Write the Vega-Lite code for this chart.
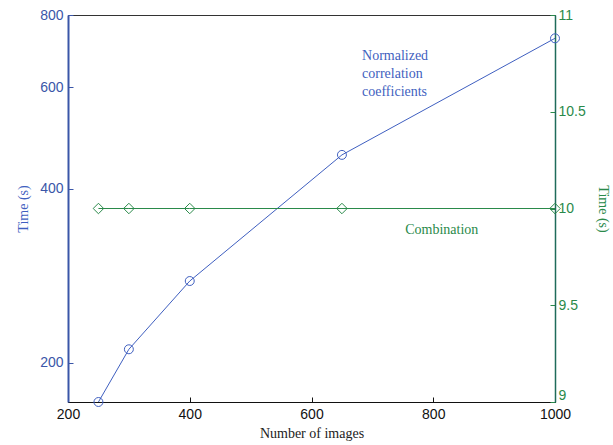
{
  "$schema": "https://vega.github.io/schema/vega-lite/v6.json",
  "autosize": "none",
  "width": 487,
  "height": 387,
  "padding": {"left": 68, "top": 15, "right": 58, "bottom": 43},
  "background": "white",
  "config": {
    "view": {"stroke": "#333333", "strokeWidth": 1},
    "axis": {
      "grid": false,
      "labelFont": "Liberation Sans",
      "labelFontSize": 14,
      "titleFont": "Liberation Serif",
      "titleFontSize": 14,
      "titleFontWeight": "normal",
      "tickSize": -5
    }
  },
  "datasets": {
    "ncc": [
      {"images": 250, "time": 171},
      {"images": 300, "time": 211},
      {"images": 400, "time": 277},
      {"images": 650, "time": 458},
      {"images": 1000, "time": 729}
    ],
    "comb": [
      {"images": 250, "time": 10},
      {"images": 300, "time": 10},
      {"images": 400, "time": 10},
      {"images": 650, "time": 10},
      {"images": 1000, "time": 10}
    ],
    "nccLabel": [
      {"images": 683, "pos": 10.79, "label": "Normalized"},
      {"images": 683, "pos": 10.695, "label": "correlation"},
      {"images": 683, "pos": 10.60, "label": "coefficients"}
    ],
    "combLabel": [
      {"images": 814, "pos": 9.89, "label": "Combination"}
    ]
  },
  "encoding": {
    "x": {
      "field": "images",
      "type": "quantitative",
      "scale": {"domain": [200, 1000], "nice": false, "zero": false},
      "axis": {
        "title": "Number of images",
        "values": [200, 400, 600, 800, 1000],
        "format": "d",
        "labelColor": "#111111",
        "titleColor": "#222222",
        "domainColor": "#111111",
        "tickColor": "#111111",
        "labelPadding": 10,
        "labelFlush": false,
        "titlePadding": 5
      }
    }
  },
  "layer": [
    {
      "data": {"name": "ncc"},
      "mark": {"type": "line", "color": "#3f5fc0", "strokeWidth": 1, "point": {"shape": "circle", "filled": false, "size": 80, "color": "#3f5fc0", "strokeWidth": 1}},
      "encoding": {
        "y": {
          "field": "time",
          "type": "quantitative",
          "scale": {"type": "log", "domain": [171, 800], "nice": false, "zero": false},
          "axis": {
            "title": "Time (s)",
            "orient": "left",
            "values": [200, 400, 600, 800],
            "format": "d",
            "labelColor": "#3a56a8",
            "titleColor": "#3f5fc0",
            "domainColor": "#3a56a8",
            "domainWidth": 2,
            "tickColor": "#3a56a8",
            "labelPadding": 10,
            "titlePadding": 9
          }
        }
      }
    },
    {
      "data": {"name": "comb"},
      "mark": {"type": "line", "color": "#2a8a4a", "strokeWidth": 1, "point": {"shape": "diamond", "filled": false, "size": 110, "color": "#2a8a4a", "strokeWidth": 1}},
      "encoding": {
        "y": {
          "field": "time",
          "type": "quantitative",
          "scale": {"domain": [9, 11], "nice": false, "zero": false},
          "axis": {
            "title": "Time (s)",
            "orient": "right",
            "values": [9, 9.5, 10, 10.5, 11],
            "format": "~g",
            "labelColor": "#2a8a4a",
            "labelBaseline": {"condition": {"test": "datum.value === 9", "value": "bottom"}, "value": "middle"},
            "titleColor": "#2a8a4a",
            "domainColor": "#1f6b5a",
            "domainWidth": 1.5,
            "tickColor": "#2a8a4a",
            "labelPadding": 8,
            "titlePadding": 10
          }
        }
      }
    },
    {
      "data": {"name": "nccLabel"},
      "mark": {"type": "text", "font": "Liberation Serif", "fontSize": 14, "baseline": "middle", "align": "left", "color": "#3f5fc0"},
      "encoding": {
        "y": {
          "field": "pos",
          "type": "quantitative",
          "scale": {"domain": [9, 11], "nice": false, "zero": false},
          "axis": null
        },
        "text": {"field": "label"}
      }
    },
    {
      "data": {"name": "combLabel"},
      "mark": {"type": "text", "font": "Liberation Serif", "fontSize": 14, "baseline": "middle", "align": "center", "color": "#2a8a4a"},
      "encoding": {
        "y": {
          "field": "pos",
          "type": "quantitative",
          "scale": {"domain": [9, 11], "nice": false, "zero": false},
          "axis": null
        },
        "text": {"field": "label"}
      }
    }
  ],
  "resolve": {"scale": {"y": "independent"}}
}
